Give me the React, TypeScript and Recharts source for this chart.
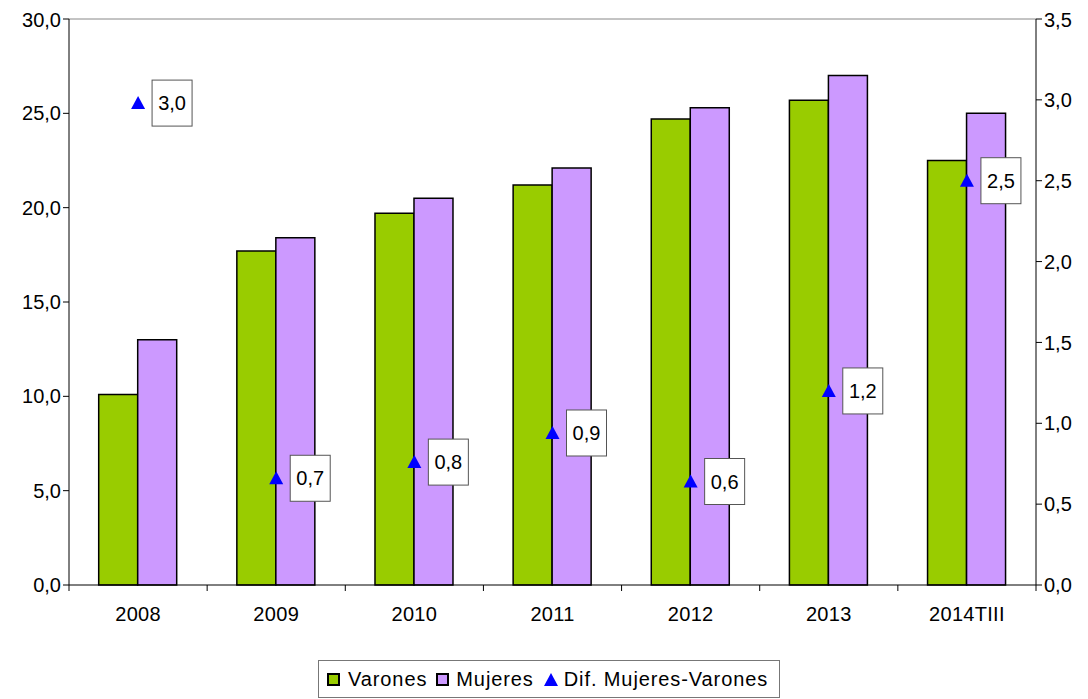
import React from 'react';
import {
  ComposedChart,
  Bar,
  Line,
  XAxis,
  YAxis,
  ReferenceLine,
  LabelList,
} from 'recharts';

const categories = ['2008', '2009', '2010', '2011', '2012', '2013', '2014TIII'];
const varones = [10.1, 17.7, 19.7, 21.2, 24.7, 25.7, 22.5];
const mujeres = [13.0, 18.4, 20.5, 22.1, 25.3, 27.0, 25.0];
const diferencia = [2.98, 0.66, 0.76, 0.94, 0.64, 1.2, 2.5];
const leftTicks = [0, 5, 10, 15, 20, 25, 30];
const rightTicks = [0, 0.5, 1, 1.5, 2, 2.5, 3, 3.5];

const data = categories.map((cat, i) => ({
  cat,
  varones: varones[i],
  mujeres: mujeres[i],
  dif: diferencia[i],
}));

const FONT = '"Liberation Sans", Arial, sans-serif';
const GREEN = '#99CC00';
const PURPLE = '#CC99FF';
const BLUE = '#0000FF';

const W = 1072;
const H = 690;
const PLOT_LEFT = 61;
const PLOT_RIGHT = 1028;
const BAND = (PLOT_RIGHT - PLOT_LEFT) / categories.length;

const fmt = (v: number) => v.toFixed(1).replace('.', ',');

function XTick(props: any) {
  const { x, y, payload, index } = props;
  const last = index === categories.length - 1;
  return (
    <g>
      <line x1={x - BAND / 2} x2={x - BAND / 2} y1={y - 8} y2={y - 2} stroke="#000" />
      {last && <line x1={x + BAND / 2} x2={x + BAND / 2} y1={y - 8} y2={y - 2} stroke="#000" />}
      <text x={x} y={y + 28} textAnchor="middle" fontSize={20} letterSpacing={0.3} fontFamily={FONT} fill="#000">
        {payload.value}
      </text>
    </g>
  );
}

function Triangle(props: any) {
  const { cx, cy } = props;
  if (cx == null || cy == null) return null;
  return <path d={`M${cx},${cy - 7} L${cx + 7},${cy + 6} L${cx - 7},${cy + 6} Z`} fill={BLUE} />;
}

function DifLabel(props: any) {
  const { x, y, value } = props;
  return (
    <g>
      <rect x={x + 14} y={y - 23} width={40} height={46} fill="#fff" stroke="#555" strokeWidth={1} />
      <text x={x + 34} y={y + 7} textAnchor="middle" fontSize={20} fontFamily={FONT} fill="#000">
        {fmt(value)}
      </text>
    </g>
  );
}

function LegendBox() {
  const item = (marker: React.ReactNode, label: string, gap: number, after: number) => (
    <span style={{ display: 'inline-flex', alignItems: 'center', marginRight: after }}>
      {marker}
      <span style={{ marginLeft: gap }}>{label}</span>
    </span>
  );
  const sq = (c: string) => (
    <svg width={13} height={13} style={{ display: 'block' }}>
      <rect x={1} y={1} width={11} height={11} fill={c} stroke="#000" strokeWidth={2} />
    </svg>
  );
  const tri = (
    <svg width={14} height={13} style={{ display: 'block' }}>
      <path d="M7,0 L14,13 L0,13 Z" fill={BLUE} />
    </svg>
  );
  return (
    <div
      style={{
        position: 'absolute',
        left: 310,
        top: 652,
        width: 462,
        height: 38,
        border: '1px solid #777',
        background: '#fff',
        display: 'flex',
        alignItems: 'center',
        paddingLeft: 8,
        boxSizing: 'border-box',
        fontFamily: FONT,
        fontSize: 20,
        letterSpacing: 0.9,
        color: '#000',
        whiteSpace: 'nowrap',
      }}
    >
      {item(sq(GREEN), 'Varones', 8, 9)}
      {item(sq(PURPLE), 'Mujeres', 7, 10)}
      {item(tri, 'Dif. Mujeres-Varones', 6, 0)}
    </div>
  );
}

export default function App() {
  return (
    <div style={{ position: 'relative', width: W, height: H }}>
      <ComposedChart
        width={W}
        height={H}
        data={data}
        margin={{ top: 11, right: 0, left: 0, bottom: 83 }}
        barGap={0}
        barCategoryGap="21.5%"
      >
        <XAxis
          dataKey="cat"
          xAxisId="x"
          height={30}
          tickLine={false}
          axisLine={{ stroke: '#000' }}
          tick={<XTick />}
          interval={0}
        />
        <YAxis
          yAxisId="left"
          width={61}
          domain={[0, 30]}
          ticks={leftTicks}
          tickFormatter={fmt}
          axisLine={{ stroke: '#000' }}
          tickLine={{ stroke: '#000' }}
          tickSize={6}
          tick={{ fontSize: 20, fontFamily: FONT, fill: '#000' }}
        />
        <YAxis
          yAxisId="right"
          orientation="right"
          width={44}
          domain={[0, 3.5]}
          ticks={rightTicks}
          tickFormatter={fmt}
          axisLine={{ stroke: '#000' }}
          tickLine={{ stroke: '#000' }}
          tickSize={6}
          tick={{ fontSize: 20, fontFamily: FONT, fill: '#000' }}
        />
        <ReferenceLine yAxisId="left" xAxisId="x" y={30} stroke="#888" />
        <Bar
          xAxisId="x"
          yAxisId="left"
          dataKey="varones"
          fill={GREEN}
          stroke="#000"
          strokeWidth={1.5}
          isAnimationActive={false}
        />
        <Bar
          xAxisId="x"
          yAxisId="left"
          dataKey="mujeres"
          fill={PURPLE}
          stroke="#000"
          strokeWidth={1.5}
          isAnimationActive={false}
        />
        <Line
          xAxisId="x"
          yAxisId="right"
          dataKey="dif"
          stroke="none"
          dot={<Triangle />}
          activeDot={false}
          isAnimationActive={false}
        >
          <LabelList dataKey="dif" content={<DifLabel />} />
        </Line>
      </ComposedChart>
      <LegendBox />
    </div>
  );
}
